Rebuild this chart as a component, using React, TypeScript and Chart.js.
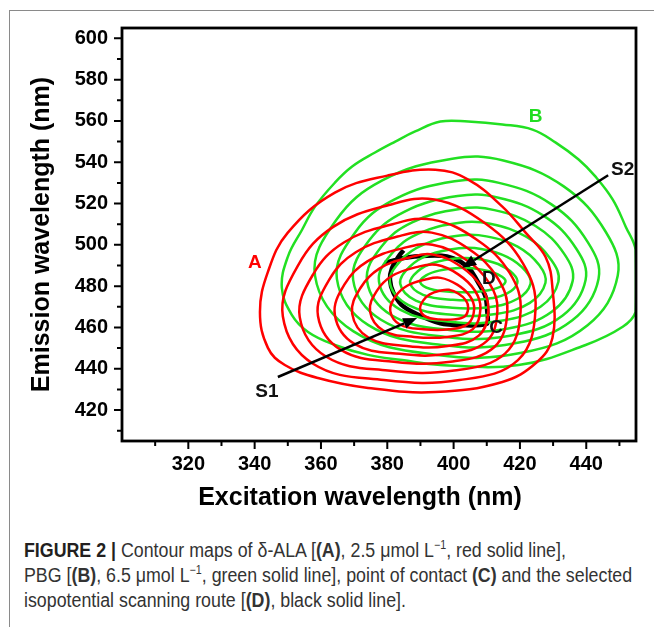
import React, { useEffect, useRef } from 'react';
import { Chart, registerables } from 'chart.js';

Chart.register(...registerables);

type P = [number, number];

// Axis ranges and ticks
const xMin = 300;
const xMax = 455;
const yMin = 405;
const yMax = 605;
const xTicks = [320, 340, 360, 380, 400, 420, 440];
const xMinorTicks = [310, 330, 350, 370, 390, 410, 430, 450];
const yTicks = [420, 440, 460, 480, 500, 520, 540, 560, 580, 600];
const yMinorTicks = [410, 430, 450, 470, 490, 510, 530, 550, 570, 590];

const xTitle = 'Excitation wavelength (nm)';
const yTitle = 'Emission wavelength (nm)';

// (A) delta-ALA contours, red (outer -> inner), [excitation, emission]
const redA1: P[] = [[341.6,467.5],[344,486.9],[350,505.9],[364.2,525.3],[380,533.5],[394.5,536.4],[404.4,531.6],[414.7,518.5],[421.7,505.9],[427.7,494.2],[429.8,479.2],[429.8,454.9],[425,443],[414.7,433.6],[394.5,428.7],[374.2,430.7],[359.1,435.5],[349.1,441.8],[344,450.1]];
const redA2: P[] = [[348.5,465.4],[353.1,490.1],[363.7,508.7],[380.5,519.3],[394.2,521.9],[409.5,510.4],[420.9,491.0],[424.7,468.9],[419.4,444.2],[401.8,434.5],[379.0,434.5],[357.6,442.4]];
const redA3: P[] = [[353.6,465.0],[357.6,485.6],[366.9,501.1],[381.6,510.0],[393.6,512.2],[406.9,502.6],[416.9,486.4],[420.2,467.9],[415.5,447.3],[400.2,439.1],[380.2,439.1],[361.6,445.8]];
const redA4: P[] = [[359.1,465.5],[362.5,483.2],[370.5,496.4],[383.1,504.0],[393.4,505.9],[404.8,497.7],[413.3,483.8],[416.2,468.0],[412.2,450.4],[399.1,443.4],[381.9,443.4],[366.0,449.1]];
const redA5: P[] = [[364.2,465.9],[367.1,480.8],[374.0,492.0],[384.8,498.4],[393.6,500.0],[403.4,493.1],[410.8,481.3],[413.2,468.0],[409.8,453.1],[398.5,447.2],[383.8,447.2],[370.1,452.0]];
const redA6: P[] = [[369.4,466.7],[371.9,479.1],[377.6,488.5],[386.7,493.9],[394.1,495.2],[402.3,489.4],[408.4,479.6],[410.5,468.4],[407.6,456.0],[398.2,451.0],[385.8,451.0],[374.3,455.1]];
const redA7: P[] = [[374.8,467.7],[376.8,477.6],[381.5,485.0],[388.8,489.2],[394.8,490.3],[401.4,485.7],[406.4,477.9],[408.1,469.1],[405.8,459.2],[398.1,455.4],[388.1,455.4],[378.8,458.5]];
const redA8: P[] = [[380.9,467.9],[382.4,474.9],[386.0,480.2],[391.5,483.2],[396.1,484.0],[401.1,480.7],[404.9,475.2],[406.2,468.9],[404.4,461.8],[398.6,459.1],[391.0,459.1],[383.9,461.3]];
const redA9: P[] = [[389.9,468.9],[390.8,473.0],[392.8,476.0],[396.0,477.8],[398.6,478.2],[401.5,476.3],[403.7,473.1],[404.4,469.5],[403.4,465.4],[400.1,463.9],[395.7,463.9],[391.6,465.2]];

// (B) PBG contours, green (outer -> inner)
const greenB1: P[] = [[348.2,479.2],[350,494.2],[354.3,507.3],[358.2,518.5],[364.2,530.1],[369.4,537.9],[376.3,544.7],[382.4,550],[388.4,554.9],[396,559.7],[404.4,559.7],[414.7,558.3],[423.8,555.8],[430.8,549.5],[437.7,541.3],[442.8,533],[448,521.9],[451.9,508.8],[454.9,497.6],[455,480],[454.9,467.5],[451,460.3],[439.8,451.5],[419.6,441.8],[396,441.8],[384.5,444.2],[374.2,446.7],[364.2,451.5],[356.1,457.8],[351.2,466.1]];
const greenB2: P[] = [[358.2,485.1],[364.6,512.0],[378.5,531.2],[399.6,541.7],[415.0,540.8],[433.2,528.3],[445.9,506.2],[449.5,485.1],[440.4,461.1],[420.5,447.7],[395.1,446.7],[369.7,458.2]];
const greenB3: P[] = [[364.8,483.5],[370.3,506.0],[382.2,522.0],[400.3,530.8],[413.7,530.0],[429.5,519.6],[440.5,501.2],[443.7,483.5],[435.8,463.5],[418.5,452.3],[396.4,451.5],[374.3,461.1]];
const greenB4: P[] = [[369.7,483.0],[374.6,502.3],[385.1,516.0],[401.2,523.6],[413.2,522.9],[427.2,514.0],[437.0,498.1],[439.8,483.0],[432.8,465.7],[417.4,456.1],[397.7,455.4],[378.1,463.7]];
const greenB5: P[] = [[373.9,482.5],[378.2,499.1],[387.5,510.9],[401.8,517.4],[412.3,516.8],[424.7,509.1],[433.4,495.5],[435.9,482.5],[429.7,467.7],[416.1,459.4],[398.7,458.8],[381.3,465.9]];
const greenB6: P[] = [[377.5,482.1],[381.3,495.7],[389.4,505.4],[401.8,510.7],[411.0,510.2],[421.9,503.9],[429.4,492.8],[431.6,482.1],[426.2,470.0],[414.3,463.2],[399.1,462.7],[384.0,468.5]];
const greenB7: P[] = [[380.8,481.6],[384.1,492.5],[391.1,500.2],[401.9,504.5],[409.9,504.1],[419.3,499.1],[425.8,490.2],[427.7,481.6],[423.0,471.9],[412.7,466.5],[399.6,466.1],[386.4,470.8]];
const greenB8: P[] = [[383.9,481.1],[386.7,489.3],[392.5,495.1],[401.6,498.3],[408.3,498.0],[416.1,494.2],[421.6,487.5],[423.2,481.1],[419.3,473.9],[410.6,469.8],[399.6,469.5],[388.6,473.0]];
const greenB9: P[] = [[386.9,481.5],[389.2,487.2],[394.0,491.3],[401.4,493.5],[406.9,493.3],[413.4,490.7],[417.9,486.0],[419.2,481.5],[416.0,476.4],[408.9,473.6],[399.8,473.4],[390.8,475.8]];
const greenB10: P[] = [[389.9,481.9],[391.7,485.2],[395.6,487.5],[401.5,488.8],[405.8,488.7],[411.0,487.1],[414.6,484.5],[415.6,481.9],[413.0,479.0],[407.4,477.3],[400.2,477.2],[393.0,478.6]];

// (D) isopotential scanning route, black
const routeD: P[] = [[379.3,491.2],[384.9,493.6],[392,494.7],[398,494.4],[402,491.9],[405,487.9],[407.5,481.5],[409.6,475],[410.1,468.5],[409.9,461.7],[397,461.7],[390.9,465],[384.9,470.1],[381.9,476.6],[380.8,483.1],[381.4,488.7],[383.4,494.4],[384.9,497.3]];

// Arrows (start -> head)
const arrowS1: P[] = [[347.0, 436.0], [389.0, 464.6]];
const arrowS2: P[] = [[446.6, 533.7], [402.6, 488.9]];

// Text labels
const labelText = ['A', 'B', 'C', 'D', 'S1', 'S2'];
const labelX = [340.1, 424.7, 412.8, 410.6, 343.7, 451.0];
const labelY = [491.3, 562.2, 460.0, 483.6, 428.7, 536.4];
const labelColor = ['#ff0000', '#22dd22', '#111', '#111', '#111', '#111'];

const redSet = [redA1, redA2, redA3, redA4, redA5, redA6, redA7, redA8, redA9];
const greenSet = [greenB1, greenB2, greenB3, greenB4, greenB5, greenB6, greenB7, greenB8, greenB9, greenB10];

const FONT = '"Liberation Sans", Arial, Helvetica, sans-serif';
const RED = '#ff0000';
const GREEN = '#22e022';

// closed contour: wrap the ends so the curve is smooth everywhere, hide the duplicated end segments
const loopDs = (pts: P[], color: string, width: number) => {
  const n = pts.length;
  const data = [pts[n - 1], ...pts, pts[0], pts[1]].map(([x, y]) => ({ x, y }));
  return {
    data,
    borderColor: color,
    borderWidth: width,
    showLine: true,
    pointRadius: 0,
    pointHoverRadius: 0,
    pointHitRadius: 0,
    tension: 0.4,
    fill: false,
    segment: {
      borderColor: (c: any) => (c.p0DataIndex === 0 || c.p0DataIndex === n + 1 ? 'rgba(0,0,0,0)' : undefined),
    },
  };
};

const drawArrow = (ctx: CanvasRenderingContext2D, x0: number, y0: number, x1: number, y1: number) => {
  const ang = Math.atan2(y1 - y0, x1 - x0);
  const hl = 14;
  const hw = 5.5;
  const bx = x1 - hl * Math.cos(ang);
  const by = y1 - hl * Math.sin(ang);
  ctx.beginPath();
  ctx.moveTo(x0, y0);
  ctx.lineTo(bx, by);
  ctx.lineWidth = 2.5;
  ctx.strokeStyle = '#000';
  ctx.stroke();
  ctx.beginPath();
  ctx.moveTo(x1, y1);
  ctx.lineTo(bx + hw * Math.sin(ang), by - hw * Math.cos(ang));
  ctx.lineTo(bx - hw * Math.sin(ang), by + hw * Math.cos(ang));
  ctx.closePath();
  ctx.fillStyle = '#000';
  ctx.fill();
};

const decorPlugin = {
  id: 'decor',
  afterDatasetsDraw(chart: any) {
    const { ctx, scales } = chart;
    const sx = scales.x;
    const sy = scales.y;
    ctx.save();
    [arrowS1, arrowS2].forEach((a) => {
      drawArrow(
        ctx,
        sx.getPixelForValue(a[0][0]),
        sy.getPixelForValue(a[0][1]),
        sx.getPixelForValue(a[1][0]),
        sy.getPixelForValue(a[1][1])
      );
    });
    ctx.font = `bold 19px ${FONT}`;
    ctx.textAlign = 'center';
    ctx.textBaseline = 'middle';
    labelText.forEach((t, i) => {
      ctx.fillStyle = labelColor[i];
      ctx.fillText(t, sx.getPixelForValue(labelX[i]), sy.getPixelForValue(labelY[i]));
    });
    ctx.restore();
  },
  afterDraw(chart: any) {
    const { ctx, chartArea: a, scales } = chart;
    const sx = scales.x;
    const sy = scales.y;
    ctx.save();
    ctx.strokeStyle = '#000';
    ctx.lineWidth = 2.8;
    ctx.strokeRect(a.left, a.top, a.right - a.left, a.bottom - a.top);
    ctx.lineWidth = 2;
    ctx.beginPath();
    xTicks.forEach((v) => {
      const p = sx.getPixelForValue(v);
      ctx.moveTo(p, a.bottom);
      ctx.lineTo(p, a.bottom + 8);
    });
    xMinorTicks.forEach((v) => {
      const p = sx.getPixelForValue(v);
      ctx.moveTo(p, a.bottom);
      ctx.lineTo(p, a.bottom + 5);
    });
    yTicks.forEach((v) => {
      const p = sy.getPixelForValue(v);
      ctx.moveTo(a.left, p);
      ctx.lineTo(a.left - 8, p);
    });
    yMinorTicks.forEach((v) => {
      const p = sy.getPixelForValue(v);
      ctx.moveTo(a.left, p);
      ctx.lineTo(a.left - 5, p);
    });
    ctx.stroke();
    ctx.fillStyle = '#000';
    ctx.font = `bold 25px ${FONT}`;
    ctx.textAlign = 'center';
    ctx.textBaseline = 'middle';
    ctx.fillText(xTitle, 360, 498);
    ctx.restore();
  },
};

export default function App() {
  const ref = useRef<HTMLCanvasElement>(null);

  useEffect(() => {
    const canvas = ref.current;
    if (!canvas) return;
    const datasets: any[] = [
      ...redSet.map((c) => loopDs(c, RED, 2.5)),
      ...greenSet.map((c) => loopDs(c, GREEN, 2.5)),
      {
        data: routeD.map(([x, y]) => ({ x, y })),
        borderColor: '#000',
        borderWidth: 4.5,
        showLine: true,
        pointRadius: 0,
        pointHoverRadius: 0,
        pointHitRadius: 0,
        tension: 0.25,
        fill: false,
      },
    ];
    const chart = new Chart(canvas, {
      type: 'scatter',
      data: { datasets },
      plugins: [decorPlugin],
      options: {
        responsive: false,
        maintainAspectRatio: false,
        animation: false,
        devicePixelRatio: 1,
        layout: { padding: { left: 0, top: 28, right: 18, bottom: 0 } },
        plugins: { legend: { display: false }, tooltip: { enabled: false } },
        events: [],
        scales: {
          x: {
            type: 'linear',
            min: xMin,
            max: xMax,
            afterBuildTicks: (s: any) => {
              s.ticks = xTicks.map((v) => ({ value: v }));
            },
            afterFit: (s: any) => {
              s.height = 79;
            },
            grid: { display: false, drawTicks: false },
            border: { display: false },
            ticks: {
              padding: 11,
              color: '#000',
              autoSkip: false,
              maxRotation: 0,
              font: { family: FONT, size: 20, weight: 'bold' },
            },
          },
          y: {
            type: 'linear',
            min: yMin,
            max: yMax,
            afterBuildTicks: (s: any) => {
              s.ticks = yTicks.map((v) => ({ value: v }));
            },
            afterFit: (s: any) => {
              s.width = 122;
            },
            grid: { display: false, drawTicks: false },
            border: { display: false },
            ticks: {
              padding: 14,
              color: '#000',
              autoSkip: false,
              font: { family: FONT, size: 20, weight: 'bold' },
            },
            title: {
              display: true,
              text: yTitle,
              color: '#000',
              font: { family: FONT, size: 25, weight: 'bold' },
              padding: { top: 27, bottom: 0 },
            },
          },
        },
      },
    } as any);
    return () => chart.destroy();
  }, []);

  const sup = { fontSize: 12, lineHeight: 0 } as const;

  return (
    <div style={{ position: 'absolute', left: 0, top: 0, width: 654, height: 627, overflow: 'hidden', background: '#fff' }}>
      <div
        style={{
          position: 'absolute',
          left: 9,
          top: 10,
          width: 700,
          height: 700,
          borderTop: '1px solid #8a8a8a',
          borderLeft: '1px solid #8a8a8a',
        }}
      />
      <canvas ref={ref} width={654} height={520} style={{ position: 'absolute', left: 0, top: 0, width: 654, height: 520 }} />
      <div
        style={{
          position: 'absolute',
          left: 24,
          top: 538,
          width: 700,
          fontFamily: FONT,
          fontSize: 20,
          lineHeight: '25px',
          color: '#333',
          whiteSpace: 'nowrap',
          transform: 'scaleX(0.89)',
          transformOrigin: '0 0',
        }}
      >
        <div>
          <b style={{ color: '#231f20' }}>FIGURE 2 |</b> Contour maps of δ-ALA [<b>(A)</b>, 2.5 μmol L<sup style={sup}>−1</sup>, red solid line],
        </div>
        <div>
          PBG [<b>(B)</b>, 6.5 μmol L<sup style={sup}>−1</sup>, green solid line], point of contact <b>(C)</b> and the selected
        </div>
        <div>
          isopotential scanning route [<b>(D)</b>, black solid line].
        </div>
      </div>
    </div>
  );
}
